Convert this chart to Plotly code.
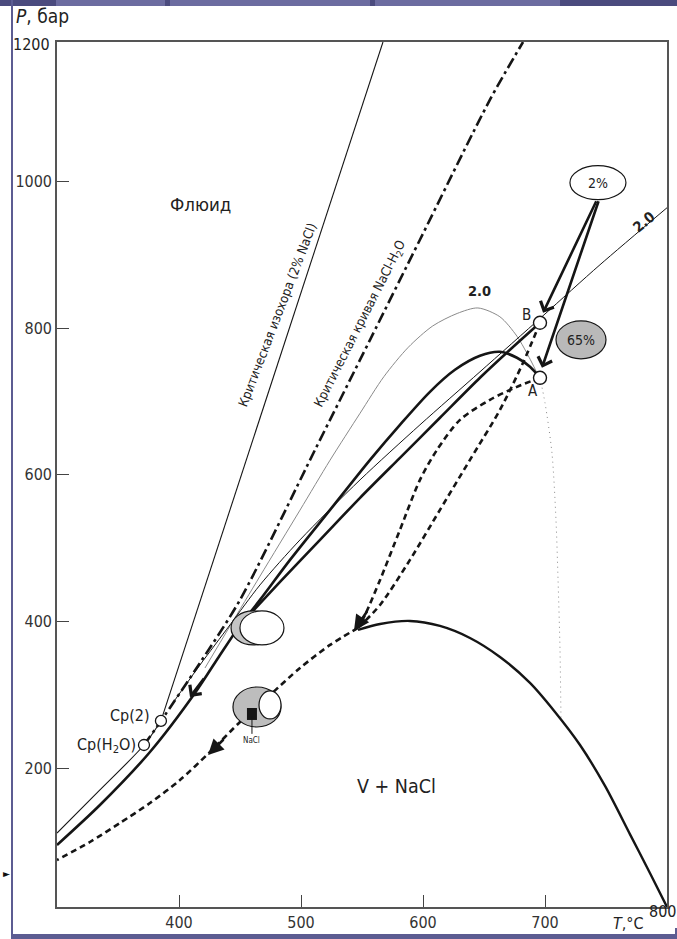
import plotly.graph_objects as go

# ---------------- data (T in °C, P in bar) ----------------
iso_T = [385.2, 567.2]                      # критическая изохора 2% NaCl
iso_P = [264.6, 1190.0]

crit_T = [371.3, 385.2, 417.2, 450.0, 511.5, 556.6, 597.5, 654.9, 682.0]   # критическая кривая NaCl-H2O
crit_P = [231.8, 264.6, 343.7, 429.6, 634.1, 784.1, 920.5, 1111.4, 1190.0]

grey_T = [421.3, 441.8, 466.4, 499.2, 523.8, 548.4, 568.0, 588.0, 608.0, 628.0, 645.0, 663.0, 677.0, 688.0, 693.4, 695.9]
grey_P = [336.8, 394.0, 462.0, 552.0, 620.0, 684.0, 734.0, 774.0, 803.0, 820.0, 827.5, 815.5, 789.0, 757.0, 739.1, 732.3]

dot_T = [695.9, 700.0, 705.7, 709.0, 710.7, 712.3, 713.1]
dot_P = [732.3, 698.2, 630.0, 538.7, 456.8, 361.4, 265.9]

t1_T = [300.0, 335.2, 371.3, 385.2]
t1_P = [111.8, 170.5, 231.8, 264.6]

t2_T = [396.7, 417.2, 441.8, 466.4, 499.2, 548.4, 597.5, 646.7, 698.4, 745.1, 800.0]
t2_P = [293.2, 340.9, 395.5, 450.0, 511.4, 593.2, 668.2, 740.5, 816.9, 886.4, 964.1]

kc_T = [300.0, 335.2, 376.2, 413.1, 433.6, 450.0]
kc_P = [95.5, 150.0, 222.3, 302.7, 354.6, 395.5]

kb_T = [450.0, 482.8, 515.6, 548.4, 581.1, 613.9, 646.7, 671.3, 695.9]
kb_P = [395.5, 454.1, 511.4, 568.7, 623.2, 677.8, 732.3, 770.5, 807.3]

ka_T = [450.0, 466.4, 491.0, 523.8, 556.6, 581.1, 605.7, 626.2, 646.7, 663.1, 677.0, 687.7, 695.9]
ka_P = [395.5, 429.6, 484.1, 552.3, 620.5, 668.2, 713.2, 743.2, 762.3, 767.8, 759.6, 747.3, 732.3]

dm_T = [546.7, 523.8, 499.2, 474.6, 450.0, 425.4, 400.8, 376.2, 351.6, 327.0, 300.0]
dm_P = [391.4, 368.2, 336.8, 300.0, 263.2, 222.3, 184.1, 152.7, 125.5, 99.6, 75.0]

db_T = [695.9, 682.0, 663.1, 638.5, 613.9, 589.3, 564.8, 546.7]
db_P = [807.3, 752.8, 688.7, 620.5, 552.3, 484.1, 422.7, 391.4]

da_T = [695.9, 677.0, 654.9, 630.3, 611.5, 597.5, 581.1, 564.8, 552.5, 546.7]
da_P = [732.3, 720.0, 702.3, 675.0, 634.1, 593.2, 525.0, 456.8, 409.1, 391.4]

bell_T = [546.7, 564.8, 589.3, 613.9, 638.5, 663.1, 687.7, 708.2, 728.7, 749.2, 769.7, 786.1, 800.0]
bell_P = [388.7, 396.8, 400.9, 394.1, 377.7, 351.8, 316.4, 276.8, 231.8, 176.0, 110.0, 57.0, 11.0]

cp_T = [385.2, 371.3]
cp_P = [264.6, 231.8]
ab_T = [695.9, 695.9]
ab_P = [807.3, 732.3]

x_ticks = [400, 500, 600, 700]
y_ticks = [200, 400, 600, 800, 1000]

FONT = "Liberation Sans Narrow, DejaVu Sans Condensed, Liberation Sans, sans-serif"
BLK = "#151515"

fig = go.Figure()

def line(xs, ys, width=1.0, color=BLK, dash="solid", shape="spline"):
    fig.add_trace(go.Scatter(x=xs, y=ys, mode="lines", hoverinfo="skip",
                             line=dict(width=width, color=color, dash=dash, shape=shape,
                                       smoothing=0.8)))

line(iso_T, iso_P, 1.1, shape="linear")
line(crit_T, crit_P, 2.6, dash="11px,4px,3px,4px")
line(grey_T, grey_P, 1.0, color="#8a8a8a")
line(dot_T, dot_P, 1.0, color="#8a8a8a", dash="1px,4px")
line(t1_T, t1_P, 1.1)
line(t2_T, t2_P, 1.0)
line(kc_T, kc_P, 2.6)
line(kb_T, kb_P, 2.6)
line(ka_T, ka_P, 2.6)
line(dm_T, dm_P, 2.6, dash="6px,4px")
line(db_T, db_P, 2.6, dash="6px,4px")
line(da_T, da_P, 2.6, dash="6px,4px")
line(bell_T, bell_P, 2.4)

fig.add_trace(go.Scatter(x=cp_T, y=cp_P, mode="markers", hoverinfo="skip",
                         marker=dict(size=11, color="white", line=dict(width=1.3, color=BLK))))
fig.add_trace(go.Scatter(x=ab_T, y=ab_P, mode="markers", hoverinfo="skip",
                         marker=dict(size=13, color="white", line=dict(width=1.4, color=BLK))))

# ---------------- ellipses (anchored in data space, sized in pixels) ----------------
def ellipse(xa, ya, rx, ry, fill, lw=1.2):
    fig.add_shape(type="circle", xref="x", yref="y", xsizemode="pixel", ysizemode="pixel",
                  xanchor=xa, yanchor=ya, x0=-rx, x1=rx, y0=-ry, y1=ry,
                  fillcolor=fill, line=dict(color=BLK, width=lw), layer="above")

ellipse(743.4, 998.2, 28, 17, "white")
ellipse(729.5, 784.1, 25, 19, "#b9b9b9")
ellipse(460.7, 391.4, 22, 17, "#c4c4c4")
ellipse(468.0, 391.4, 22, 17, "white")
ellipse(463.9, 283.6, 24, 20, "#bdbdbd")
ellipse(474.6, 286.4, 11, 14, "white")
fig.add_shape(type="rect", xref="x", yref="y", xsizemode="pixel", ysizemode="pixel",
              xanchor=459.8, yanchor=274.1, x0=-5, x1=5, y0=-6, y1=6,
              fillcolor=BLK, line=dict(width=0), layer="above")
fig.add_shape(type="line", xref="x", yref="y", x0=459.8, x1=459.8, y0=270, y1=247,
              line=dict(color=BLK, width=1), layer="above")

# ---------------- arrows ----------------
def arrow(x, y, ax, ay, head=2, w=2.5, size=1.0):
    fig.add_annotation(x=x, y=y, ax=ax, ay=ay, xref="x", yref="y", axref="x", ayref="y",
                       showarrow=True, arrowhead=head, arrowwidth=w, arrowsize=size,
                       arrowcolor=BLK, text="")

arrow(698.4, 820.9, 742.6, 975.0, head=4, w=2.6, size=1.1)
arrow(697.5, 745.9, 744.3, 975.0, head=4, w=2.6, size=1.1)
arrow(409.0, 297.3, 421.3, 324.6, head=4, w=2.6, size=1.1)
arrow(423.8, 218.2, 437.7, 241.4, head=2, w=2.6, size=1.2)
arrow(543.4, 387.3, 554.9, 415.9, head=2, w=2.6, size=1.2)

# ---------------- texts ----------------
def text(x, y, s, size=13, angle=0, xanchor="center", color="#222", bold=False, ref="data",
         yanchor="middle"):
    if bold:
        s = "<b>" + s + "</b>"
    fig.add_annotation(x=x, y=y, text=s, showarrow=False, textangle=angle,
                       xref="x" if ref == "data" else "paper",
                       yref="y" if ref == "data" else "paper",
                       xanchor=xanchor, yanchor=yanchor,
                       font=dict(family=FONT, size=size, color=color))

text(417.4, 968.6, "Флюид", 18.5)
text(578.6, 174.6, "V + NaCl", 19.5)
text(481.0, 818.0, "Критическая изохора (2% NaCl)", 13, angle=-69)
text(549.0, 806.0, "Критическая кривая NaCl-H<sub>2</sub>O", 13, angle=-63)
text(646.0, 850.0, "2.0", 14.5, bold=True)
text(781.0, 945.0, "2.0", 14.5, angle=-40, bold=True)
text(684.5, 818.0, "B", 15)
text(690.5, 714.0, "A", 15)
text(743.4, 998.2, "2%", 14)
text(729.5, 784.1, "65%", 14)
text(459.8, 238.6, "NaCl", 8)
text(378.0, 272.0, "Cp(2)", 16, xanchor="right")
text(366.0, 231.8, "Cp(H<sub>2</sub>O)", 16, xanchor="right")

# paper-space helpers (figure pixels -> paper)
L, R, T, B = 57, 10, 42, 32
W, H = 677, 939
pw, ph = W - L - R, H - T - B
def px(x):
    return (x - L) / pw
def py(y):
    return (H - B - y) / ph

text(px(14), py(16), "<i>P</i>, бар", 19, xanchor="left", ref="paper")
text(px(52), py(44), "1200", 16, xanchor="right", ref="paper")
text(px(662), py(911), "800", 16, ref="paper")
text(px(628), py(923), "<i>T</i>,°C", 16, ref="paper")
text(px(6), py(873), "►", 10, ref="paper", color="#111")

# frame decoration (scanned page border)
def prect(x0, y0, x1, y1, color):
    fig.add_shape(type="rect", xref="paper", yref="paper", x0=px(x0), x1=px(x1),
                  y0=py(y1), y1=py(y0), fillcolor=color, line=dict(width=0), layer="above")

prect(0, 0, 677, 6, "#4b4b7e")
prect(56, 0, 165, 6, "#6c6ca0")
prect(170, 0, 370, 6, "#6c6ca0")
prect(375, 0, 560, 6, "#6c6ca0")
prect(11, 0, 13, 939, "#5c5c92")
prect(11, 934, 677, 939, "#5c5c92")
prect(675, 928, 677, 939, "#5c5c92")

fig.update_layout(
    width=W, height=H, margin=dict(l=L, r=R, t=T, b=B, autoexpand=False),
    paper_bgcolor="white", plot_bgcolor="white", showlegend=False,
    font=dict(family=FONT, size=16, color="#333"),
)
fig.update_xaxes(range=[300, 800], tickvals=x_ticks, ticks="inside", ticklen=12,
                 tickwidth=1.4, tickcolor="#444", showgrid=False, zeroline=False,
                 showline=True, linecolor="#555", linewidth=1.6, mirror=True,
                 tickfont=dict(family=FONT, size=16, color="#333"))
fig.update_yaxes(range=[11, 1190], tickvals=y_ticks, ticks="inside", ticklen=12,
                 tickwidth=1.4, tickcolor="#444", showgrid=False, zeroline=False,
                 showline=True, linecolor="#555", linewidth=1.6, mirror=True,
                 tickfont=dict(family=FONT, size=16, color="#333"))

fig.write_html("out.html", config={"displayModeBar": False},
               post_script="document.body.style.margin='0';document.body.style.padding='0';"
                           "document.body.style.overflow='hidden';")
